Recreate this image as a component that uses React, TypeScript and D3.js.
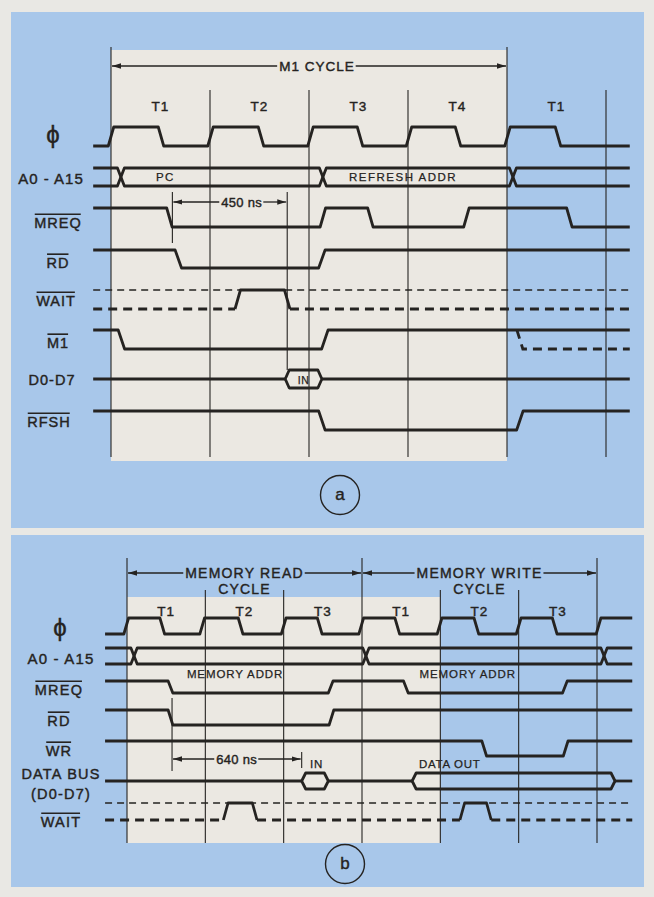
import React, { useEffect, useRef } from 'react';
import * as d3 from 'd3';

// ---------------- data: panel (a) – M1 cycle (time in T-states) ----------------
const aStates = ['T1', 'T2', 'T3', 'T4', 'T1'];
const aCycle = { label: 'M1 CYCLE', from: 0, to: 4, labelAt: 2.08 };
const aSpan = [-0.18, 5.24];
const aPhiEdges = [0.0, 0.505, 1.005, 1.515, 2.015, 2.515, 3.01, 3.505, 4.005, 4.515];
const aAddrCross = [0.1, 2.14, 4.06];
const aAddrText = [
  { at: 0.55, text: 'PC' },
  { at: 2.95, text: 'REFRESH ADDR' },
];
const aMreqEdges = [0.59, 2.14, 2.62, 3.59, 4.63];
const aRdEdges = [0.68, 2.13];
const aWaitPulses = [[1.28, 1.78]];
const aM1Edges = [0.105, 2.16];
const aM1NextFall = 4.13;
const aDataBoxes = [{ from: 1.76, to: 2.13, text: 'IN' }];
const aRfshEdges = [2.13, 4.13];
const aMeasure = { from: 0.62, to: 1.78, text: '450 ns', labelAt: 1.32 };
const aSignalNames = ['\u03D5', 'A0 - A15', 'MREQ', 'RD', 'WAIT', 'M1', 'D0-D7', 'RFSH'];
const aActiveLow = [false, false, true, true, true, true, false, true];

// ---------------- data: panel (b) – memory read / write cycles ----------------
const bStates = ['T1', 'T2', 'T3', 'T1', 'T2', 'T3'];
const bCycles = [
  { label: 'MEMORY READ', sub: 'CYCLE', from: 0, to: 3 },
  { label: 'MEMORY WRITE', sub: 'CYCLE', from: 3, to: 6 },
];
const bSpan = [-0.28, 6.45];
const bPhiEdges = [-0.01, 0.45, 0.96, 1.45, 2.0, 2.46, 2.99, 3.45, 3.99, 4.46, 5.0, 5.46, 6.02];
const bAddrCross = [0.09, 3.05, 6.09];
const bAddrText = [
  { at: 1.38, text: 'MEMORY ADDR' },
  { at: 4.35, text: 'MEMORY ADDR' },
];
const bMreqEdges = [0.555, 2.6, 3.56, 5.59];
const bRdEdges = [0.555, 2.61];
const bWrEdges = [4.56, 5.6];
const bDataBoxes = [
  { from: 2.23, to: 2.57, text: 'IN', textAt: 2.42 },
  { from: 3.64, to: 6.23, text: 'DATA OUT', textAt: 4.12 },
];
const bWaitPulses = [[1.26, 1.63], [4.28, 4.62]];
const bMeasure = { from: 0.575, to: 2.23, text: '640 ns', labelAt: 1.4 };
const bSignalNames = ['\u03D5', 'A0 - A15', 'MREQ', 'RD', 'WR', 'DATA BUS', 'WAIT'];
const bSignalSub = ['', '', '', '', '', '(D0-D7)', ''];
const bActiveLow = [false, false, true, true, true, false, true];

// ---------------- drawing ----------------
const W = 654;
const H = 897;
const INK = '#252321';
const BLUE = '#a8c7ea';
const CREAM = '#ebe8e2';
const PAPER = '#e9e8e4';
const FONT = "'Liberation Sans', Arial, Helvetica, sans-serif";
const SW = 2.8;

type Sel = d3.Selection<any, any, any, any>;

function label(g: Sel, x: number, y: number, str: string, size: number, over = false, ls = 1, anchor = 'middle') {
  const t = g
    .append('text')
    .attr('x', x)
    .attr('y', y)
    .attr('text-anchor', anchor)
    .attr('dominant-baseline', 'central')
    .attr('font-family', FONT)
    .attr('font-size', size)
    .attr('letter-spacing', ls)
    .attr('fill', INK)
    .attr('stroke', INK)
    .attr('stroke-width', size > 12 ? 0.4 : 0.25)
    .text(str);
  if (over) {
    const bb = (t.node() as SVGTextElement).getBBox();
    const oy = y - size * 0.36 - 3.6;
    g.append('line')
      .attr('x1', bb.x + 0.5)
      .attr('x2', bb.x + bb.width - ls)
      .attr('y1', oy)
      .attr('y2', oy)
      .attr('stroke', INK)
      .attr('stroke-width', 1.6);
  }
  return t;
}

function digital(g: Sel, x: any, span: number[], start: number, edges: number[], w: number, yHi: number, yLo: number) {
  const y = d3.scaleLinear().domain([0, 1]).range([yLo, yHi]);
  const pts: [number, number][] = [];
  let lvl = start;
  pts.push([span[0], lvl]);
  edges.forEach((e) => {
    pts.push([e - w / 2, lvl]);
    lvl = 1 - lvl;
    pts.push([e + w / 2, lvl]);
  });
  pts.push([span[1], lvl]);
  const line = d3
    .line<[number, number]>()
    .x((d) => x(d[0]))
    .y((d) => y(d[1]));
  g.append('path')
    .attr('d', line(pts))
    .attr('fill', 'none')
    .attr('stroke', INK)
    .attr('stroke-width', SW)
    .attr('stroke-linejoin', 'round');
}

function bus(g: Sel, x: any, span: number[], crosses: number[], w: number, yTop: number, yBot: number) {
  [true, false].forEach((startTop) => {
    const pts: [number, number][] = [];
    let top = startTop;
    pts.push([x(span[0]), top ? yTop : yBot]);
    crosses.forEach((c) => {
      pts.push([x(c - w / 2), top ? yTop : yBot]);
      top = !top;
      pts.push([x(c + w / 2), top ? yTop : yBot]);
    });
    pts.push([x(span[1]), top ? yTop : yBot]);
    g.append('path')
      .attr('d', d3.line()(pts))
      .attr('fill', 'none')
      .attr('stroke', INK)
      .attr('stroke-width', SW)
      .attr('stroke-linejoin', 'round');
  });
}

function dataBus(g: Sel, x: any, span: number[], boxes: { from: number; to: number }[], yMid: number, half: number, slant: number) {
  let cur = span[0];
  boxes.forEach((b) => {
    g.append('line')
      .attr('x1', x(cur))
      .attr('x2', x(b.from))
      .attr('y1', yMid)
      .attr('y2', yMid)
      .attr('stroke', INK)
      .attr('stroke-width', SW);
    const x0 = x(b.from);
    const x1 = x(b.to);
    const p = d3.path();
    p.moveTo(x0, yMid);
    p.lineTo(x0 + slant, yMid - half);
    p.lineTo(x1 - slant, yMid - half);
    p.lineTo(x1, yMid);
    p.lineTo(x1 - slant, yMid + half);
    p.lineTo(x0 + slant, yMid + half);
    p.closePath();
    g.append('path')
      .attr('d', p.toString())
      .attr('fill', 'none')
      .attr('stroke', INK)
      .attr('stroke-width', SW)
      .attr('stroke-linejoin', 'round');
    cur = b.to;
  });
  g.append('line')
    .attr('x1', x(cur))
    .attr('x2', x(span[1]))
    .attr('y1', yMid)
    .attr('y2', yMid)
    .attr('stroke', INK)
    .attr('stroke-width', SW);
}

function waitLine(g: Sel, x: any, span: number[], pulses: number[][], w: number, yHi: number, yLo: number) {
  g.append('line')
    .attr('x1', x(span[0]))
    .attr('x2', x(span[1]))
    .attr('y1', yHi)
    .attr('y2', yHi)
    .attr('stroke', INK)
    .attr('stroke-width', 1.3)
    .attr('stroke-dasharray', '7,5');
  let cur = span[0];
  pulses.forEach((p) => {
    g.append('line')
      .attr('x1', x(cur))
      .attr('x2', x(p[0] - w / 2))
      .attr('y1', yLo)
      .attr('y2', yLo)
      .attr('stroke', INK)
      .attr('stroke-width', SW)
      .attr('stroke-dasharray', '9,6');
    const pts: [number, number][] = [
      [x(p[0] - w / 2), yLo],
      [x(p[0] + w / 2), yHi],
      [x(p[1] - w / 2), yHi],
      [x(p[1] + w / 2), yLo],
    ];
    g.append('path')
      .attr('d', d3.line()(pts))
      .attr('fill', 'none')
      .attr('stroke', INK)
      .attr('stroke-width', SW)
      .attr('stroke-linejoin', 'round');
    cur = p[1] + w / 2;
  });
  g.append('line')
    .attr('x1', x(cur))
    .attr('x2', x(span[1]))
    .attr('y1', yLo)
    .attr('y2', yLo)
    .attr('stroke', INK)
    .attr('stroke-width', SW)
    .attr('stroke-dasharray', '9,6');
}

function spanArrow(g: Sel, x0: number, x1: number, xc: number, y: number, str: string, size: number, ls: number) {
  const t = label(g, xc, y, str, size, false, ls);
  const bb = (t.node() as SVGTextElement).getBBox();
  g.append('line')
    .attr('x1', bb.x - 2)
    .attr('x2', x0 + 1)
    .attr('y1', y)
    .attr('y2', y)
    .attr('stroke', INK)
    .attr('stroke-width', 1.3)
    .attr('marker-end', 'url(#arrowHead)');
  g.append('line')
    .attr('x1', bb.x + bb.width + 1)
    .attr('x2', x1 - 1)
    .attr('y1', y)
    .attr('y2', y)
    .attr('stroke', INK)
    .attr('stroke-width', 1.3)
    .attr('marker-end', 'url(#arrowHead)');
}

function vline(g: Sel, x: number, y1: number, y2: number, sw = 1.1) {
  g.append('line')
    .attr('x1', x)
    .attr('x2', x)
    .attr('y1', y1)
    .attr('y2', y2)
    .attr('stroke', INK)
    .attr('stroke-width', sw);
}

function draw(el: SVGSVGElement) {
  const svg = d3.select(el);
  svg.selectAll('*').remove();

  const defs = svg.append('defs');
  defs
    .append('marker')
    .attr('id', 'arrowHead')
    .attr('viewBox', '0 0 10 6')
    .attr('refX', 10)
    .attr('refY', 3)
    .attr('markerWidth', 9)
    .attr('markerHeight', 5.4)
    .attr('markerUnits', 'userSpaceOnUse')
    .attr('orient', 'auto-start-reverse')
    .append('path')
    .attr('d', 'M0,0L10,3L0,6Z')
    .attr('fill', INK);

  svg.append('rect').attr('width', W).attr('height', H).attr('fill', PAPER);
  svg.append('rect').attr('x', 11).attr('y', 12).attr('width', 633).attr('height', 516).attr('fill', BLUE);
  svg.append('rect').attr('x', 11).attr('y', 535).attr('width', 633).attr('height', 352).attr('fill', BLUE);

  // ================= panel (a) =================
  const xA = d3.scaleLinear().domain([0, 5]).range([111, 606]);
  const gA = svg.append('g');
  gA.append('rect')
    .attr('x', xA(aCycle.from))
    .attr('y', 50)
    .attr('width', xA(aCycle.to) - xA(aCycle.from))
    .attr('height', 411)
    .attr('fill', CREAM);

  d3.range(aStates.length + 1).forEach((i) => {
    const tall = i === aCycle.from || i === aCycle.to;
    vline(gA, xA(i), tall ? 47 : 90, 457);
  });
  aStates.forEach((s, i) => label(gA, xA(i + 0.5), 106, s, 13.5, false, 1));
  spanArrow(gA, xA(aCycle.from), xA(aCycle.to), xA(aCycle.labelAt), 66, aCycle.label, 13.5, 1);

  // row layout (high, low)
  const rowsA = [
    { hi: 127, lo: 146, ly: 134 },
    { hi: 168, lo: 186, ly: 178 },
    { hi: 208, lo: 227, ly: 223 },
    { hi: 250, lo: 268, ly: 263 },
    { hi: 290, lo: 309, ly: 301 },
    { hi: 330, lo: 349, ly: 343 },
    { hi: 370, lo: 388, ly: 380 },
    { hi: 411, lo: 430, ly: 422 },
  ];
  const labelXA = [53, 51, 58, 58, 56, 58, 52, 49];
  aSignalNames.forEach((n, i) => {
    const isPhi = i === 0;
    label(gA, labelXA[i], rowsA[i].ly, n, isPhi ? 24 : i === 1 ? 15 : 14.5, aActiveLow[i], isPhi ? 0 : 1);
  });

  const wA = 0.055;
  digital(gA, xA, aSpan, 0, aPhiEdges, wA, rowsA[0].hi, rowsA[0].lo);
  bus(gA, xA, aSpan, aAddrCross, 0.07, rowsA[1].hi, rowsA[1].lo);
  aAddrText.forEach((d) => label(gA, xA(d.at), (rowsA[1].hi + rowsA[1].lo) / 2, d.text, 11.5, false, 1.5));
  digital(gA, xA, aSpan, 1, aMreqEdges, wA, rowsA[2].hi, rowsA[2].lo);
  digital(gA, xA, aSpan, 1, aRdEdges, 0.065, rowsA[3].hi, rowsA[3].lo);
  waitLine(gA, xA, aSpan, aWaitPulses, wA, rowsA[4].hi, rowsA[4].lo);
  digital(gA, xA, aSpan, 1, aM1Edges, 0.065, rowsA[5].hi, rowsA[5].lo);
  gA.append('path')
    .attr(
      'd',
      d3.line()([
        [xA(aM1NextFall - 0.03), rowsA[5].hi],
        [xA(aM1NextFall + 0.03), rowsA[5].lo],
        [xA(aSpan[1]), rowsA[5].lo],
      ])
    )
    .attr('fill', 'none')
    .attr('stroke', INK)
    .attr('stroke-width', SW)
    .attr('stroke-dasharray', '9,6');
  const midA = (rowsA[6].hi + rowsA[6].lo) / 2;
  dataBus(gA, xA, aSpan, aDataBoxes, midA, 9, 4);
  aDataBoxes.forEach((b) => label(gA, xA((b.from + b.to) / 2), midA + 1, b.text, 10.5, false, 0.5));
  digital(gA, xA, aSpan, 1, aRfshEdges, 0.065, rowsA[7].hi, rowsA[7].lo);

  // 450 ns measurement
  vline(gA, xA(aMeasure.from), 192, 243);
  vline(gA, xA(aMeasure.to), 192, 370);
  spanArrow(gA, xA(aMeasure.from), xA(aMeasure.to), xA(aMeasure.labelAt), 202, aMeasure.text, 13, 0.3);

  gA.append('circle').attr('cx', 340).attr('cy', 495).attr('r', 19.5).attr('fill', 'none').attr('stroke', INK).attr('stroke-width', 1.4);
  label(gA, 340, 494, 'a', 17, false, 0);

  // ================= panel (b) =================
  const xB = d3.scaleLinear().domain([0, 6]).range([127, 597]);
  const gB = svg.append('g');
  gB.append('rect')
    .attr('x', xB(0))
    .attr('y', 597)
    .attr('width', xB(4) - xB(0))
    .attr('height', 246)
    .attr('fill', CREAM);

  d3.range(bStates.length + 1).forEach((i) => {
    const tall = bCycles.some((c) => c.from === i || c.to === i);
    vline(gB, xB(i), tall ? 558 : 590, 843);
  });
  bStates.forEach((s, i) => label(gB, xB(i + 0.5), 611, s, 13.5, false, 1));
  bCycles.forEach((c) => {
    spanArrow(gB, xB(c.from), xB(c.to), xB((c.from + c.to) / 2), 573, c.label, 14, 1.2);
    label(gB, xB((c.from + c.to) / 2), 589, c.sub, 14, false, 1.2);
  });

  const rowsB = [
    { hi: 618, lo: 634, ly: 627 },
    { hi: 648, lo: 664, ly: 658 },
    { hi: 681, lo: 693, ly: 690 },
    { hi: 710, lo: 725, ly: 721 },
    { hi: 741, lo: 756, ly: 751 },
    { hi: 773, lo: 789, ly: 774 },
    { hi: 803, lo: 820, ly: 822 },
  ];
  const labelXB = [60, 61, 59, 59, 59, 61, 61];
  bSignalNames.forEach((n, i) => {
    const isPhi = i === 0;
    label(gB, labelXB[i], rowsB[i].ly, n, isPhi ? 24 : i === 1 ? 15 : 14.5, bActiveLow[i], isPhi ? 0 : 1.2);
    if (bSignalSub[i]) label(gB, labelXB[i], rowsB[i].ly + 20, bSignalSub[i], 14.5, false, 1.2);
  });

  const wB = 0.06;
  digital(gB, xB, bSpan, 0, bPhiEdges, wB, rowsB[0].hi, rowsB[0].lo);
  bus(gB, xB, bSpan, bAddrCross, 0.08, rowsB[1].hi, rowsB[1].lo);
  bAddrText.forEach((d) => label(gB, xB(d.at), 674, d.text, 11.5, false, 0.9));
  digital(gB, xB, bSpan, 1, bMreqEdges, wB, rowsB[2].hi, rowsB[2].lo);
  digital(gB, xB, bSpan, 1, bRdEdges, wB, rowsB[3].hi, rowsB[3].lo);
  digital(gB, xB, bSpan, 1, bWrEdges, wB, rowsB[4].hi, rowsB[4].lo);
  const midB = (rowsB[5].hi + rowsB[5].lo) / 2;
  dataBus(gB, xB, bSpan, bDataBoxes, midB, 8, 4);
  bDataBoxes.forEach((b) => label(gB, xB(b.textAt), 764, b.text, 11.5, false, 0.7));
  waitLine(gB, xB, bSpan, bWaitPulses, wB, rowsB[6].hi, rowsB[6].lo);

  // 640 ns measurement
  vline(gB, xB(bMeasure.from), 698, 771);
  vline(gB, xB(bMeasure.to), 752, 768);
  spanArrow(gB, xB(bMeasure.from), xB(bMeasure.to), xB(bMeasure.labelAt), 759, bMeasure.text, 13, 0.3);

  gB.append('circle').attr('cx', 345).attr('cy', 864).attr('r', 19.5).attr('fill', 'none').attr('stroke', INK).attr('stroke-width', 1.4);
  label(gB, 345, 863, 'b', 17, false, 0);
}

export default function App() {
  const ref = useRef<SVGSVGElement>(null);
  useEffect(() => {
    if (ref.current) draw(ref.current);
  }, []);
  return (
    <svg
      ref={ref}
      width={W}
      height={H}
      style={{ position: 'absolute', left: 0, top: 0, display: 'block' }}
    />
  );
}
